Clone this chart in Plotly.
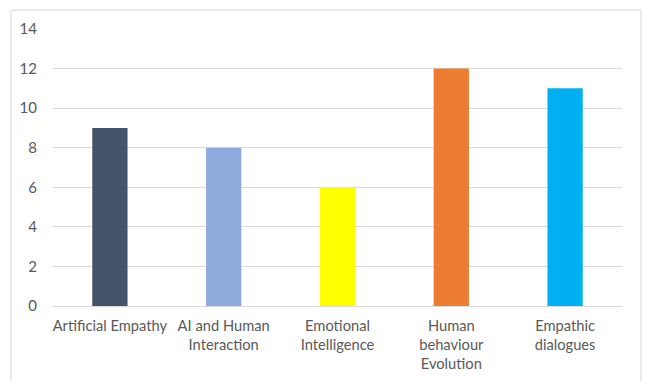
import plotly.graph_objects as go

categories = ["Artificial Empathy", "AI and Human<br>Interaction", "Emotional<br>Intelligence",
              "Human<br>behaviour<br>Evolution", "Empathic<br>dialogues"]
values = [9, 8, 6, 12, 11]
colors = ["#44546A", "#8FAADC", "#FFFF00", "#ED7D31", "#00B0F0"]
y_ticks = [0, 2, 4, 6, 8, 10, 12, 14]

fig = go.Figure(go.Bar(x=categories, y=values, marker=dict(color=colors, line=dict(width=0)),
                       width=0.31))

fig.update_layout(
    width=645, height=381,
    margin=dict(l=53, r=23, t=29, b=75, autoexpand=False),
    paper_bgcolor="white", plot_bgcolor="white",
    font=dict(family="Lato, sans-serif", size=15, color="#595959"),
    showlegend=False,
    xaxis=dict(showgrid=False, showline=True, linecolor="#D9D9D9", linewidth=1, automargin=False,
               ticks="", tickfont=dict(size=14.7, color="#595959"), ticklabelstandoff=6),
    yaxis=dict(range=[0, 14], tickvals=y_ticks, showgrid=True, gridcolor="#D9D9D9",
               gridwidth=1, zeroline=False, showline=False, ticks="", automargin=False,
               tickfont=dict(size=15, color="#595959"), ticklabelstandoff=15),
    shapes=[dict(type="rect", xref="paper", yref="paper",
                 x0=-0.0738, x1=1.0334, y0=-0.3, y1=1.0686,
                 line=dict(color="#D9D9D9", width=1), fillcolor="rgba(0,0,0,0)", layer="below")],
)

fig.write_html("out.html")
